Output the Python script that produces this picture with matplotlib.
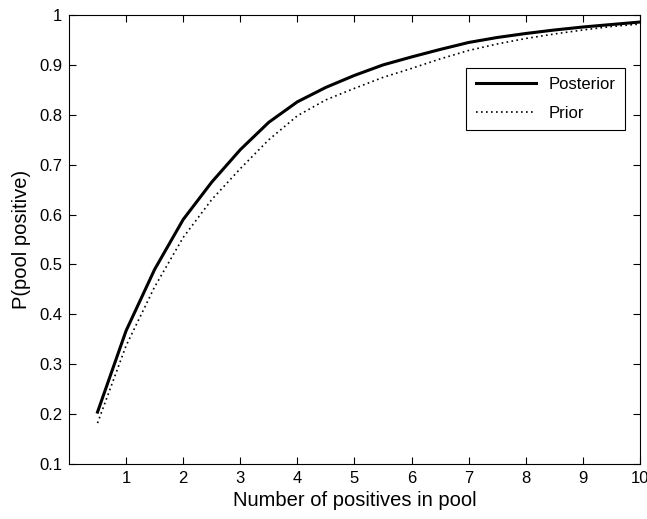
import numpy as np
import matplotlib as mpl
import matplotlib.pyplot as plt

mpl.rcParams['font.family'] = ['Liberation Sans', 'DejaVu Sans']

# number of positives in pool
n_pos = [0.5, 1, 1.5, 2, 2.5, 3, 3.5, 4, 4.5, 5,
         5.5, 6, 6.5, 7, 7.5, 8, 8.5, 9, 9.5, 10]
posterior = [0.204, 0.367, 0.49, 0.59, 0.665, 0.73, 0.785, 0.826, 0.855, 0.879,
             0.90, 0.916, 0.931, 0.945, 0.955, 0.963, 0.970, 0.976, 0.981, 0.986]
prior = [0.182, 0.337, 0.455, 0.554, 0.63, 0.692, 0.75, 0.798, 0.83, 0.853,
         0.875, 0.893, 0.912, 0.929, 0.942, 0.953, 0.962, 0.970, 0.977, 0.982]

xticks = np.arange(1, 11)
yticks = np.round(np.arange(0.1, 1.01, 0.1), 1)
ytick_labels = ['0.1', '0.2', '0.3', '0.4', '0.5', '0.6', '0.7', '0.8', '0.9', '1']

fig = plt.figure(figsize=(6.47, 5.19), dpi=100)
ax = fig.add_axes([0.1066, 0.106, 0.8824, 0.865])

ax.plot(n_pos, posterior, color='black', lw=2.2, label='Posterior')
ax.plot(n_pos, prior, color='black', lw=1.2, linestyle=(0, (1, 2)), label='Prior')

ax.set_xlim(0, 10)
ax.set_ylim(0.1, 1)
ax.set_xticks(xticks)
ax.set_xticklabels([str(x) for x in xticks], fontsize=12)
ax.set_yticks(yticks)
ax.set_yticklabels(ytick_labels, fontsize=12)
ax.tick_params(direction='in', top=True, right=True, length=5, width=0.8, pad=5)
for s in ax.spines.values():
    s.set_linewidth(0.8)

ax.set_xlabel('Number of positives in pool', fontsize=14.5, labelpad=4)
ax.set_ylabel('P(pool positive)', fontsize=14.5, labelpad=6)

leg = ax.legend(loc='upper right', bbox_to_anchor=(0.974, 0.882), borderaxespad=0,
                fontsize=12, fancybox=False, framealpha=1, edgecolor='black',
                handlelength=3.6, borderpad=0.55, labelspacing=0.8)
leg.get_frame().set_linewidth(0.8)

fig.savefig('out.png', dpi=100)
